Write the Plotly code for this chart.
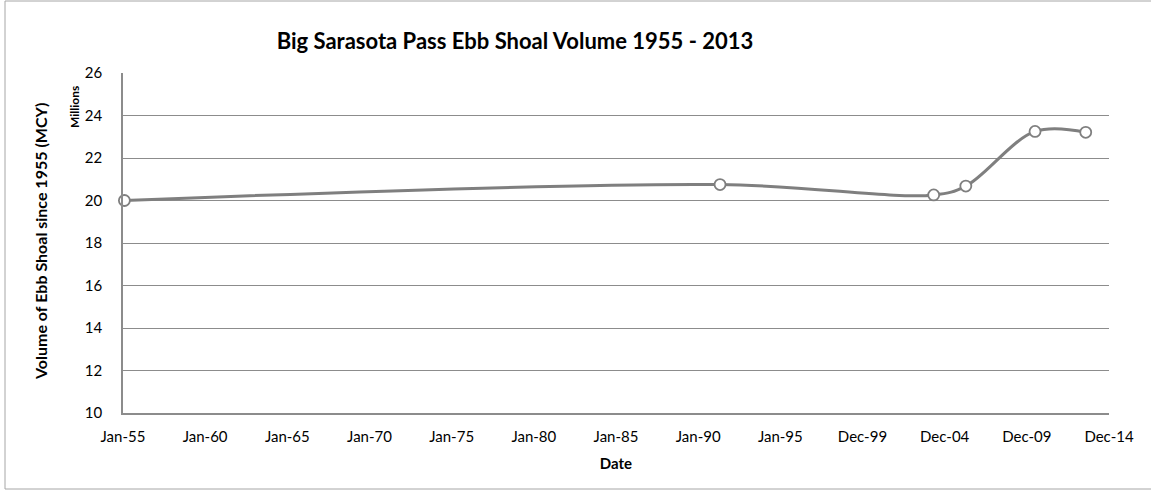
import plotly.graph_objects as go

dates = ["1955-02-01", "1991-05-01", "2004-05-01", "2006-04-15", "2010-07-01", "2013-08-01"]
volume = [20.0, 20.75, 20.26, 20.68, 23.25, 23.21]

tick_vals = ["1955-01-01", "1960-01-01", "1965-01-01", "1970-01-01", "1975-01-01",
             "1980-01-01", "1985-01-01", "1990-01-01", "1995-01-01", "1999-12-31",
             "2004-12-31", "2009-12-31", "2014-12-31"]
tick_text = ["Jan-55", "Jan-60", "Jan-65", "Jan-70", "Jan-75", "Jan-80", "Jan-85",
             "Jan-90", "Jan-95", "Dec-99", "Dec-04", "Dec-09", "Dec-14"]
y_ticks = [10, 12, 14, 16, 18, 20, 22, 24, 26]

FONT = "Lato, Open Sans, sans-serif"
W, H = 1151, 494
L, R, T, B = 123, 42, 73, 81
pw, ph = W - L - R, H - T - B

def px(x):
    return (x - L) / pw

def py(y):
    return (H - B - y) / ph

fig = go.Figure()
fig.add_trace(go.Scatter(
    x=dates, y=volume, mode="lines+markers",
    line=dict(color="#7f7f7f", width=3, shape="spline", smoothing=1.0),
    marker=dict(size=11, color="white", line=dict(color="#7f7f7f", width=1.8)),
    showlegend=False, cliponaxis=False,
))

fig.update_layout(
    width=W, height=H,
    margin=dict(l=L, r=R, t=T, b=B),
    paper_bgcolor="white", plot_bgcolor="white",
    font=dict(family=FONT, color="black", size=13),
    title=dict(text="<b>Big Sarasota Pass Ebb Shoal Volume 1955 - 2013</b>",
               x=515 / W, xanchor="center", y=1 - 41 / H, yanchor="middle",
               font=dict(family=FONT, size=22, color="black")),
    xaxis=dict(
        type="date", range=["1955-01-01", "2014-12-31"],
        tickmode="array", tickvals=tick_vals, ticktext=tick_text,
        showgrid=False, showline=True, linecolor="#8c8c8c", linewidth=1.5,
        ticks="", tickfont=dict(size=15, family=FONT), ticklabelstandoff=9,
        title=dict(text="<b>Date</b>", font=dict(size=15, family=FONT), standoff=15),
    ),
    yaxis=dict(
        range=[10, 26], tickmode="array", tickvals=y_ticks,
        showgrid=True, gridcolor="#8c8c8c", gridwidth=1,
        showline=True, linecolor="#8c8c8c", linewidth=1.5,
        ticks="", tickfont=dict(size=15, family=FONT), zeroline=False,
        ticklabelstandoff=16,
    ),
    annotations=[
        dict(text="<b>Volume of Ebb Shoal since 1955 (MCY)</b>", textangle=-90,
             x=px(40), y=py(242), xref="paper", yref="paper",
             xanchor="center", yanchor="middle", showarrow=False,
             font=dict(size=16, family=FONT)),
        dict(text="<b>Millions</b>", textangle=-90,
             x=px(74), y=py(107), xref="paper", yref="paper",
             xanchor="center", yanchor="middle", showarrow=False,
             font=dict(size=12, family=FONT)),
    ],
    shapes=[
        dict(type="rect", xref="paper", yref="paper",
             x0=px(5), x1=px(1160), y0=py(489), y1=py(1),
             line=dict(color="#a6a6a6", width=1), fillcolor="rgba(0,0,0,0)", layer="below"),
    ],
)

fig.write_html("out.html", config={"displayModeBar": False},
               post_script="document.body.style.margin='0';")
